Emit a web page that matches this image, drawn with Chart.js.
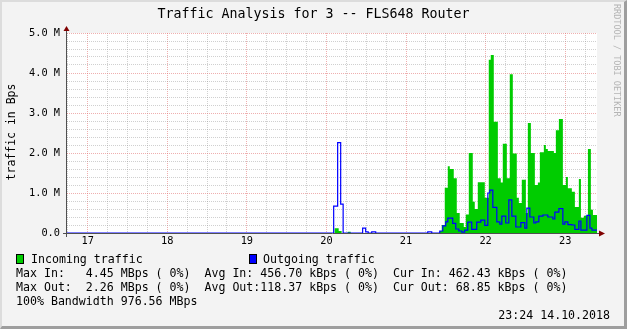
<!DOCTYPE html>
<html>
<head>
<meta charset="utf-8">
<script src="https://cdn.jsdelivr.net/npm/chart.js@4.4.0/dist/chart.umd.min.js"></script>
<style>
  html, body { margin: 0; padding: 0; background: #f3f3f3; }
  #wrap { position: relative; width: 627px; height: 329px; background: #f3f3f3; overflow: hidden;
          font-family: 'DejaVu Sans Mono', monospace; color: #000; }
  #wrap::after { content: ''; position: absolute; left: 0; top: 0; right: 0; bottom: 0; box-sizing: border-box;
                 border-style: solid; border-width: 2px 3px 3px 2px;
                 border-color: #dcdcdc #9e9e9e #9e9e9e #dcdcdc; pointer-events: none; }
  canvas { position: absolute; left: 0; top: 0; }
  .txt { position: absolute; white-space: pre; }
  #title { left: 0; width: 627px; top: 6px; text-align: center; font-size: 13.3px; line-height: 16px; }
  #ytitle { left: 11px; top: 132px; font-size: 11.5px; line-height: 14px;
            transform: translate(-50%, -50%) rotate(-90deg); }
  #mark { left: 612px; top: 4px; font-size: 8.5px; color: #b4b4b4; writing-mode: vertical-rl; }
  .leg { font-size: 11.6px; line-height: 14px; }
  .box { position: absolute; width: 6px; height: 8px; border: 1px solid #000; }
</style>
</head>
<body>
<div id="wrap">
  <canvas id="traffic" width="627" height="329"></canvas>
  <div id="title" class="txt">Traffic Analysis for 3 -- FLS648 Router</div>
  <div id="ytitle" class="txt">traffic in Bps</div>
  <div id="mark" class="txt">RRDTOOL / TOBI OETIKER</div>

  <div class="box" style="left:16px; top:254px; background:#00cc00"></div>
  <div class="txt leg" style="left:31px; top:252px">Incoming traffic</div>
  <div class="box" style="left:249px; top:254px; background:#0000ff"></div>
  <div class="txt leg" style="left:263px; top:252px">Outgoing traffic</div>

  <div class="txt leg" style="left:16px; top:266px">Max In:   4.45 MBps ( 0%)  Avg In: 456.70 kBps ( 0%)  Cur In: 462.43 kBps ( 0%)</div>
  <div class="txt leg" style="left:16px; top:280px">Max Out:  2.26 MBps ( 0%)  Avg Out:118.37 kBps ( 0%)  Cur Out: 68.85 kBps ( 0%)</div>
  <div class="txt leg" style="left:16px; top:294px">100% Bandwidth 976.56 MBps</div>
  <div class="txt leg" style="right:17px; top:308px">23:24 14.10.2018</div>
</div>
<script>
// time axis in hours of the day, values in MBps
const X_MIN = 16.74;
const X_MAX = 23.40;

// each value holds from its time until the next time
const inHours = [16.74, 20.103, 20.154, 20.191, 20.267, 20.305, 21.424, 21.449, 21.487, 21.525,
    21.550, 21.600, 21.638, 21.675, 21.726, 21.751, 21.789, 21.839, 21.864, 21.902,
    21.990, 22.040, 22.065, 22.103, 22.154, 22.191, 22.216, 22.267, 22.304, 22.342,
    22.392, 22.418, 22.455, 22.506, 22.531, 22.569, 22.619, 22.657, 22.682, 22.732,
    22.757, 22.782, 22.808, 22.858, 22.883, 22.921, 22.971, 23.009, 23.034, 23.084,
    23.122, 23.172, 23.198, 23.235, 23.286, 23.323, 23.349, 23.40];
const inValues = [0, 0.12, 0.05, 0, 0.03, 0, 0.05, 0.2, 1.13, 1.67,
    1.6, 1.37, 0.5, 0.25, 0.15, 0.46, 2.0, 0.78, 0.6, 1.27,
    0.88, 4.33, 4.45, 2.78, 1.37, 1.26, 2.23, 1.37, 3.97, 1.99,
    0.88, 0.75, 1.33, 0.5, 2.75, 2.0, 1.2, 1.26, 2.02, 2.2,
    2.1, 2.05, 2.05, 2.0, 2.57, 2.85, 1.2, 1.4, 1.12, 1.03,
    0.65, 1.35, 0.38, 0.43, 2.1, 0.58, 0.45, 0.45];

const outHours = [16.74, 20.091, 20.141, 20.179, 20.210, 20.455, 20.493, 20.525, 20.569, 20.619,
    21.273, 21.323, 21.424, 21.462, 21.499, 21.525, 21.587, 21.625, 21.663, 21.701,
    21.738, 21.776, 21.826, 21.889, 21.940, 21.990, 22.028, 22.053, 22.091, 22.141,
    22.179, 22.204, 22.254, 22.292, 22.330, 22.380, 22.443, 22.493, 22.518, 22.556,
    22.606, 22.631, 22.669, 22.720, 22.782, 22.845, 22.870, 22.921, 22.971, 22.996,
    23.034, 23.084, 23.122, 23.172, 23.198, 23.273, 23.311, 23.336, 23.40];
const outValues = [0, 0.67, 2.26, 0.72, 0, 0.12, 0.03, 0, 0.03, 0,
    0.03, 0, 0.05, 0.18, 0.28, 0.37, 0.24, 0.1, 0.05, 0.02,
    0.07, 0.27, 0.09, 0.27, 0.32, 0.19, 1.0, 1.07, 0.64, 0.28,
    0.22, 0.42, 0.25, 0.83, 0.42, 0.15, 0.26, 0.12, 0.62, 0.4,
    0.25, 0.28, 0.42, 0.45, 0.4, 0.35, 0.52, 0.61, 0.22, 0.28,
    0.21, 0.2, 0.09, 0.3, 0.07, 0.44, 0.12, 0.07, 0.07];

const Y_MAX = 5;

const isWhole = v => Math.abs(v - Math.round(v)) < 1e-6;
const MAJOR = 'rgba(225, 110, 110, 0.55)';
const MINOR = 'rgba(150, 150, 150, 0.45)';
const AXIS = '#505050';
const ARROW = '#800000';
const tickFont = { family: 'DejaVu Sans Mono', size: 10.3 };

const toPoints = (xs, ys) => xs.map((x, i) => ({ x: x, y: ys[i] }));

// white canvas under the plot, axes with arrow heads on top
const rrdFrame = {
    id: 'rrdFrame',
    beforeDraw(chart) {
        const a = chart.chartArea;
        const ctx = chart.ctx;
        ctx.save();
        ctx.fillStyle = '#ffffff';
        ctx.fillRect(a.left, a.top, a.right - a.left, a.bottom - a.top);
        ctx.restore();
    },
    beforeDatasetsDraw(chart) {
        const a = chart.chartArea;
        const ctx = chart.ctx;
        ctx.save();
        ctx.strokeStyle = AXIS;
        ctx.lineWidth = 1;
        ctx.beginPath();
        ctx.moveTo(a.left - 0.5, a.bottom + 4);
        ctx.lineTo(a.left - 0.5, a.top - 5);
        ctx.moveTo(a.left - 4, a.bottom + 0.5);
        ctx.lineTo(a.right + 5, a.bottom + 0.5);
        ctx.stroke();
        ctx.restore();
    },
    afterDraw(chart) {
        const a = chart.chartArea;
        const ctx = chart.ctx;
        ctx.save();
        ctx.fillStyle = ARROW;
        ctx.beginPath();
        ctx.moveTo(a.left - 0.5, a.top - 7);
        ctx.lineTo(a.left - 3.5, a.top - 2);
        ctx.lineTo(a.left + 2.5, a.top - 2);
        ctx.closePath();
        ctx.fill();
        ctx.beginPath();
        ctx.moveTo(a.right + 8, a.bottom + 0.5);
        ctx.lineTo(a.right + 2, a.bottom - 2.5);
        ctx.lineTo(a.right + 2, a.bottom + 3.5);
        ctx.closePath();
        ctx.fill();
        ctx.restore();
    }
};

new Chart(document.getElementById('traffic'), {
    type: 'line',
    data: {
        datasets: [{
            label: 'Outgoing traffic',
            data: toPoints(outHours, outValues),
            borderColor: '#0000ff',
            borderWidth: 1.2,
            stepped: true,
            pointRadius: 0,
            fill: false,
            order: 1
        }, {
            label: 'Incoming traffic',
            data: toPoints(inHours, inValues),
            borderColor: '#00cc00',
            backgroundColor: '#00cc00',
            borderWidth: 0,
            stepped: true,
            pointRadius: 0,
            fill: 'origin',
            order: 2
        }]
    },
    options: {
        responsive: false,
        animation: false,
        events: [],
        layout: { padding: { left: 0, right: 30, top: 33, bottom: 76 } },
        plugins: { legend: { display: false }, tooltip: { enabled: false } },
        scales: {
            x: {
                type: 'linear',
                min: X_MIN,
                max: X_MAX,
                afterFit(scale) { scale.height = 20; },
                ticks: {
                    stepSize: 0.25,
                    autoSkip: false,
                    includeBounds: false,
                    maxRotation: 0,
                    padding: 2,
                    color: '#000',
                    font: tickFont,
                    callback: v => isWhole(v) ? String(Math.round(v)) : ''
                },
                grid: {
                    color: c => isWhole(c.tick.value) ? MAJOR : MINOR,
                    lineWidth: 1,
                    drawTicks: false
                },
                border: { display: false, dash: [1, 1] }
            },
            y: {
                min: 0,
                max: Y_MAX,
                afterFit(scale) { scale.width = 67; },
                ticks: {
                    stepSize: 0.2,
                    autoSkip: false,
                    padding: 7,
                    color: '#000',
                    font: tickFont,
                    callback: v => !isWhole(v) ? '' : (Math.round(v) === 0 ? '0.0' : Math.round(v).toFixed(1) + ' M')
                },
                grid: {
                    color: c => isWhole(c.tick.value) ? MAJOR : MINOR,
                    lineWidth: 1,
                    drawTicks: false
                },
                border: { display: false, dash: [1, 1] }
            }
        }
    },
    plugins: [rrdFrame]
});
</script>
</body>
</html>
